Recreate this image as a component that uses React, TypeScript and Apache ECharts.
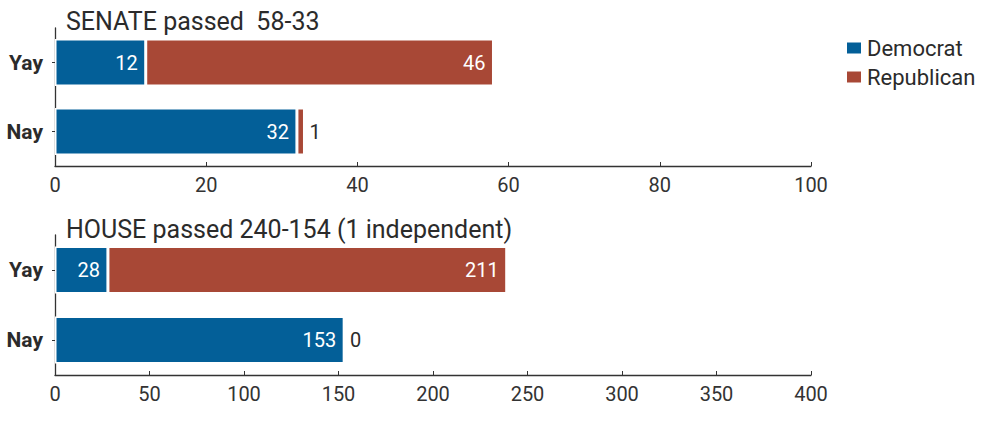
import React, { useEffect, useRef } from "react";
import * as echarts from "echarts";

const categories = ["Yay", "Nay"];
const seriesNames = ["Democrat", "Republican"];
const senateDem = [12, 32];
const senateRep = [46, 1];
const houseDem = [28, 153];
const houseRep = [211, 0];
const senateTitle = "SENATE passed  58-33";
const houseTitle = "HOUSE passed 240-154 (1 independent)";
const senateAxis = { min: 0, max: 100, interval: 20 };
const houseAxis = { min: 0, max: 400, interval: 50 };

const BLUE = "#035f98";
const RED = "#a84836";
const FONT = "Roboto, 'Noto Sans', sans-serif";
const DARK = "#2b2b2b";

export default function App() {
  const ref = useRef<HTMLDivElement>(null);
  useEffect(() => {
    if (!ref.current) return;
    const chart = echarts.init(ref.current, null, { renderer: "svg" });
    const xAxisBase = (gridIndex: number, ax: any) => ({
      type: "value",
      gridIndex,
      min: ax.min,
      max: ax.max,
      interval: ax.interval,
      splitLine: { show: false },
      axisLine: { show: true, lineStyle: { color: "#333", width: 1.3 } },
      axisTick: { show: true, inside: true, length: 4, lineStyle: { color: "#333" } },
      axisLabel: { fontSize: 20, color: "#333", fontFamily: FONT, margin: 9 },
    });
    const yAxisBase = (gridIndex: number) => ({
      type: "category",
      gridIndex,
      data: categories,
      inverse: true,
      axisLine: { show: true, lineStyle: { color: "#333", width: 1.3 } },
      axisTick: { show: true, inside: false, alignWithLabel: true, length: 3, lineStyle: { color: "#333" } },
      axisLabel: { fontSize: 21, fontWeight: "bold", color: DARK, fontFamily: FONT, margin: 12 },
    });
    const mkData = (vals: number[]) =>
      vals.map((v) =>
        v < 5
          ? { value: v, label: { position: "right", color: DARK, distance: 5 } }
          : { value: v }
      );
    const mkSeries = (name: string, color: string, vals: number[], idx: number) => ({
      type: "bar",
      name,
      stack: "s" + idx,
      xAxisIndex: idx,
      yAxisIndex: idx,
      barWidth: 47,
      data: mkData(vals),
      itemStyle: { color, borderColor: "#ffffff", borderWidth: 1.5 },
      label: {
        show: true,
        position: "insideRight",
        distance: 8,
        color: "#ffffff",
        fontSize: 20,
        fontFamily: FONT,
      },
    });
    chart.setOption({
      animation: false,
      textStyle: { fontFamily: FONT },
      title: [
        { text: senateTitle, left: 61, top: 4, textStyle: { fontSize: 25, fontWeight: "normal", color: DARK, fontFamily: FONT } },
        { text: houseTitle, left: 61, top: 212, textStyle: { fontSize: 25, fontWeight: "normal", color: DARK, fontFamily: FONT } },
      ],
      legend: {
        data: seriesNames,
        orient: "vertical",
        left: 847,
        top: 37,
        padding: 0,
        icon: "rect",
        itemWidth: 14,
        itemHeight: 11,
        itemGap: 7,
        itemStyle: { borderWidth: 0 },
        textStyle: { fontSize: 22, color: DARK, fontFamily: FONT, padding: [0, 0, 0, 1] },
      },
      grid: [
        { left: 55, right: 182, top: 28, height: 138, containLabel: false },
        { left: 55, right: 182, top: 235, height: 140, containLabel: false },
      ],
      xAxis: [xAxisBase(0, senateAxis), xAxisBase(1, houseAxis)],
      yAxis: [yAxisBase(0), yAxisBase(1)],
      series: [
        mkSeries(seriesNames[0], BLUE, senateDem, 0),
        mkSeries(seriesNames[1], RED, senateRep, 0),
        mkSeries(seriesNames[0], BLUE, houseDem, 1),
        mkSeries(seriesNames[1], RED, houseRep, 1),
      ],
    });
    return () => chart.dispose();
  }, []);
  return (
    <div
      ref={ref}
      style={{ position: "fixed", left: 0, top: 0, width: 993, height: 428, background: "#fff" }}
    />
  );
}
